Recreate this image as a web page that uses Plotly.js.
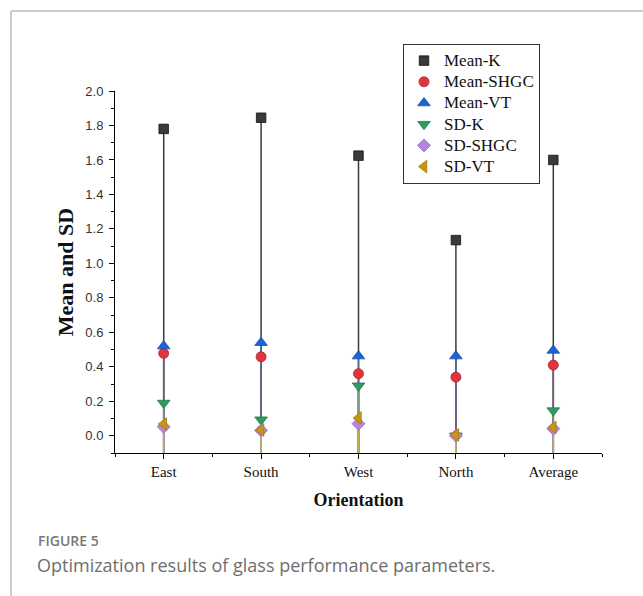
<!DOCTYPE html>
<html>
<head>
<meta charset="utf-8">
<script src="https://cdn.plot.ly/plotly-3.0.1.min.js"></script>
<style>
html,body{margin:0;padding:0;background:#fff;}
#chart{width:643px;height:596px;}
</style>
</head>
<body>
<div id="chart"></div>
<script>
// ---- data ----
var categories = ["East", "South", "West", "North", "Average"];
var meanK    = [1.78, 1.845, 1.625, 1.135, 1.60];
var meanSHGC = [0.478, 0.458, 0.36, 0.34, 0.41];
var meanVT   = [0.52, 0.54, 0.462, 0.462, 0.495];
var sdK      = [0.19, 0.093, 0.29, 0.0, 0.146];
var sdSHGC   = [0.052, 0.031, 0.07, 0.0, 0.041];
var sdVT     = [0.068, 0.033, 0.103, 0.005, 0.048];
var seriesNames = ["Mean-K", "Mean-SHGC", "Mean-VT", "SD-K", "SD-SHGC", "SD-VT"];
var yTickVals = [0.0, 0.2, 0.4, 0.6, 0.8, 1.0, 1.2, 1.4, 1.6, 1.8, 2.0];

var series = [meanK, meanSHGC, meanVT, sdK, sdSHGC, sdVT];
var yMin = -0.1, yMax = 2.0;

var styles = [
  {symbol: "square",        fill: "#3a3a3a", edge: "#111111", stem: "#3a3a3a", size: 9.5},
  {symbol: "circle",        fill: "#e0343f", edge: "#b0222c", stem: "#b85060", size: 10},
  {symbol: "triangle-up",   fill: "#1a62d6", edge: "#1450b0", stem: "#4f6a8e", size: 11},
  {symbol: "triangle-down", fill: "#2e9c5e", edge: "#237a48", stem: "#6a9a7e", size: 11},
  {symbol: "diamond",       fill: "#b586e0", edge: "#9a6cc8", stem: "#a892c0", size: 10},
  {symbol: "triangle-left", fill: "#c8960e", edge: "#a87a08", stem: "#c8ae5a", size: 11}
];

var xIdx = categories.map(function(c, i){ return i; });
var traces = [];

// drop lines (stems) from each point to the bottom of the axis
series.forEach(function(vals, k){
  traces.push({
    type: "scatter", mode: "markers", x: xIdx, y: vals,
    showlegend: false, hoverinfo: "skip",
    marker: {opacity: 0, size: 1},
    error_y: {
      type: "data", symmetric: false,
      array: vals.map(function(){ return 0; }),
      arrayminus: vals.map(function(v){ return v - yMin; }),
      width: 0, thickness: 1.5, color: styles[k].stem
    }
  });
});

// markers
series.forEach(function(vals, k){
  var s = styles[k];
  traces.push({
    type: "scatter", mode: "markers", x: xIdx, y: vals,
    name: '<span style="font-size:17px">' + seriesNames[k] + '</span>',
    marker: {symbol: s.symbol, size: s.size, color: s.fill, line: {color: s.edge, width: 0.8}}
  });
});

var L = 115, R = 41, T = 91, B = 143;
var W = 643, H = 596;
var pw = W - L - R, ph = H - T - B;
function px2x(px){ return (px - L) / pw; }
function py2y(py){ return (H - B - py) / ph; }

var layout = {
  width: W, height: H,
  margin: {l: L, r: R, t: T, b: B, pad: 0},
  paper_bgcolor: "#ffffff", plot_bgcolor: "#ffffff",
  showlegend: true,
  xaxis: {
    range: [-0.5, 4.5],
    tickmode: "array", tickvals: xIdx, ticktext: categories,
    ticks: "outside", ticklen: 5, tickwidth: 1, tickcolor: "#000",
    minor: {dtick: 0.5, tick0: -0.5, ticks: "outside", ticklen: 3, tickcolor: "#000", tickwidth: 1, showgrid: false},
    showline: true, linecolor: "#000", linewidth: 1,
    showgrid: false, zeroline: false,
    tickfont: {family: "Liberation Serif, Times New Roman, serif", size: 15, color: "#111"},
    title: {text: "<b>Orientation</b>", font: {family: "Liberation Serif, Times New Roman, serif", size: 18, color: "#111"}, standoff: 14}
  },
  yaxis: {
    range: [yMin, yMax],
    tickmode: "array", tickvals: yTickVals,
    ticktext: yTickVals.map(function(v){ return v.toFixed(1); }),
    ticks: "outside", ticklen: 5, tickwidth: 1, tickcolor: "#000",
    minor: {dtick: 0.1, tick0: 0, ticks: "outside", ticklen: 3, tickcolor: "#000", tickwidth: 1, showgrid: false},
    showline: true, linecolor: "#000", linewidth: 1,
    showgrid: false, zeroline: false,
    ticklabelstandoff: 3,
    tickfont: {family: "Liberation Sans, Arial, sans-serif", size: 13, color: "#333"},
    title: {text: "<b>Mean and SD</b>", font: {family: "Liberation Serif, Times New Roman, serif", size: 22, color: "#111"}, standoff: 5}
  },
  legend: {
    x: px2x(403), y: py2y(44), xanchor: "left", yanchor: "top",
    bordercolor: "#333", borderwidth: 1, bgcolor: "#ffffff",
    font: {family: "Liberation Serif, Times New Roman, serif", size: 14, color: "#111"},
    tracegroupgap: 0
  },
  shapes: [
    {type: "line", xref: "paper", yref: "paper", x0: px2x(11), x1: px2x(11), y0: py2y(11), y1: py2y(596), line: {color: "#bdbdbd", width: 1.5}},
    {type: "line", xref: "paper", yref: "paper", x0: px2x(11), x1: px2x(643), y0: py2y(11), y1: py2y(11), line: {color: "#bdbdbd", width: 1.5}}
  ],
  annotations: [
    {xref: "paper", yref: "paper", x: px2x(36), y: py2y(540), xanchor: "left", yanchor: "middle", showarrow: false,
     text: "FIGURE 5", font: {family: "Open Sans, Noto Sans, sans-serif", size: 14, color: "#777", weight: 600}},
    {xref: "paper", yref: "paper", x: px2x(35), y: py2y(565), xanchor: "left", yanchor: "middle", showarrow: false,
     text: "Optimization results of glass performance parameters.", font: {family: "Open Sans, Noto Sans, sans-serif", size: 18, color: "#6e6e6e"}}
  ]
};

Plotly.newPlot("chart", traces, layout, {displayModeBar: false, staticPlot: true});
</script>
</body>
</html>
